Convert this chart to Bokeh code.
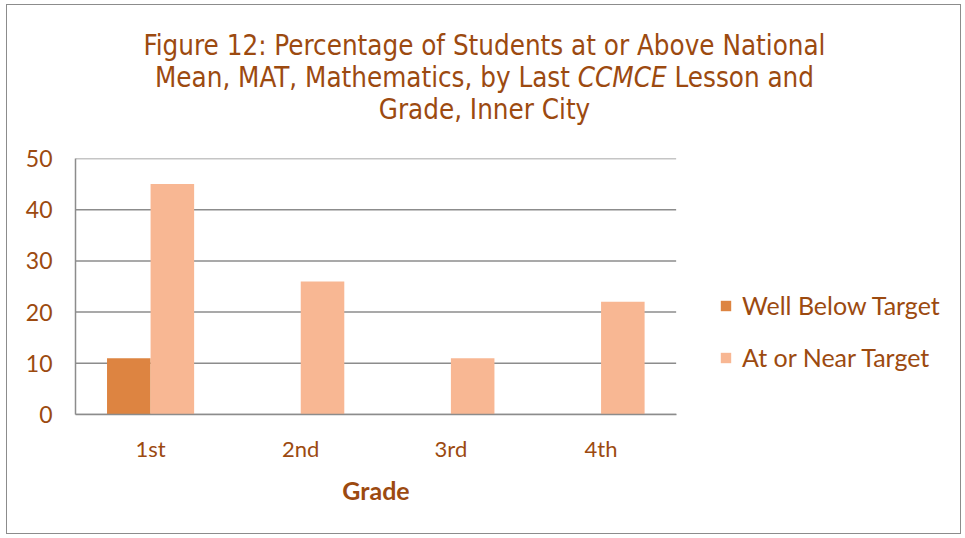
from bokeh.plotting import figure
from bokeh.models import Legend, LegendItem, ColumnDataSource, Div, Range1d, FixedTicker
from bokeh.layouts import column
from bokeh.transform import dodge
from bokeh.embed import file_html
from bokeh.resources import INLINE

grades = ["1st", "2nd", "3rd", "4th"]
well_below = [11, 0, 0, 0]
at_near = [45, 26, 11, 22]
series_names = ["Well Below Target", "At or Near Target"]
yticks = [0, 10, 20, 30, 40, 50]
x_title = "Grade"
title_lines = ["Figure 12: Percentage of Students at or Above National",
               "Mean, MAT, Mathematics, by Last <i>CCMCE</i> Lesson and",
               "Grade, Inner City"]

BROWN = "#9C4A10"
DARK = "#DD8441"
LIGHT = "#F8B793"
GRID = "#8C8C8C"
TITLE_FONT = "'Liberation Sans Narrow', 'DejaVu Sans Condensed', sans-serif"
BODY_FONT = "Lato"

W, H_DIV, H_FIG, H_XT = 955, 130, 339, 61
LEFT, TOP, BOTTOM = 68, 23, 60
PLOT_W = 602                      # width used by the four categories
FRAME_W = W - LEFT
BAR_W = 0.29
OFF = 0.145

n = len(grades)
centers = [i + 0.5 for i in range(n)]
src = ColumnDataSource(dict(x=centers, wb=well_below, an=at_near))

p = figure(x_range=Range1d(0, n * FRAME_W / PLOT_W), y_range=Range1d(0, 50),
           width=W, height=H_FIG, output_backend="svg", toolbar_location=None,
           min_border_left=LEFT, min_border_right=0, min_border_top=TOP,
           min_border_bottom=BOTTOM, margin=0)
p.outline_line_color = None

# horizontal grid limited to the category area
p.segment(x0=[0] * len(yticks), x1=[n] * len(yticks), y0=yticks, y1=yticks,
          line_color=GRID, line_width=1.5, level="underlay")

r1 = p.vbar(x=dodge("x", -OFF), top="wb", width=BAR_W, source=src,
            fill_color=DARK, line_color=None)
r2 = p.vbar(x=dodge("x", OFF), top="an", width=BAR_W, source=src,
            fill_color=LIGHT, line_color=None)

p.xgrid.grid_line_color = None
p.ygrid.grid_line_color = None
p.yaxis.ticker = yticks
p.xaxis.ticker = FixedTicker(ticks=centers)
p.xaxis.major_label_overrides = {c: g for c, g in zip(centers, grades)}
p.xaxis.bounds = (0, n)
for ax in (p.xaxis[0], p.yaxis[0]):
    ax.axis_line_color = GRID
    ax.axis_line_width = 1.5
    ax.major_tick_line_color = None
    ax.minor_tick_line_color = None
    ax.major_label_text_color = BROWN
    ax.major_label_text_font = BODY_FONT
p.yaxis.major_label_text_font_size = "23px"
p.xaxis.major_label_text_font_size = "22px"
p.yaxis.major_label_standoff = 17
p.xaxis.major_label_standoff = 14

legend = Legend(items=[LegendItem(label=series_names[0], renderers=[r1]),
                       LegendItem(label=series_names[1], renderers=[r2])],
                location=(644, 42), orientation="vertical",
                label_text_font=BODY_FONT, label_text_font_size="25px",
                label_text_color=BROWN, glyph_width=13, glyph_height=13,
                label_height=26, spacing=22, padding=0, margin=0,
                border_line_color=None, background_fill_alpha=0, label_standoff=10)
p.add_layout(legend, "center")

title_html = ('<div style="padding-top:24px; text-align:center; width:955px; '
              f'font-family:{TITLE_FONT}; font-size:27.5px; line-height:32px; color:{BROWN};">'
              + "<br>".join(title_lines) + "</div>")
div = Div(text=title_html, width=W, height=H_DIV, margin=0)

xt_html = (f'<div style="width:{2 * (LEFT + PLOT_W // 2)}px; text-align:center; '
           f'font-family:{BODY_FONT}; font-weight:bold; font-size:25px; line-height:32px; '
           f'color:{BROWN};">{x_title}</div>')
xdiv = Div(text=xt_html, width=W, height=H_XT, margin=0)

layout = column(div, p, xdiv, width=W, height=H_DIV + H_FIG + H_XT, spacing=0,
                styles={"border": "1px solid #8c8c8c", "margin-left": "6px", "margin-top": "4px",
                        "overflow": "hidden"})

open("out.html", "w").write(file_html(layout, INLINE))
